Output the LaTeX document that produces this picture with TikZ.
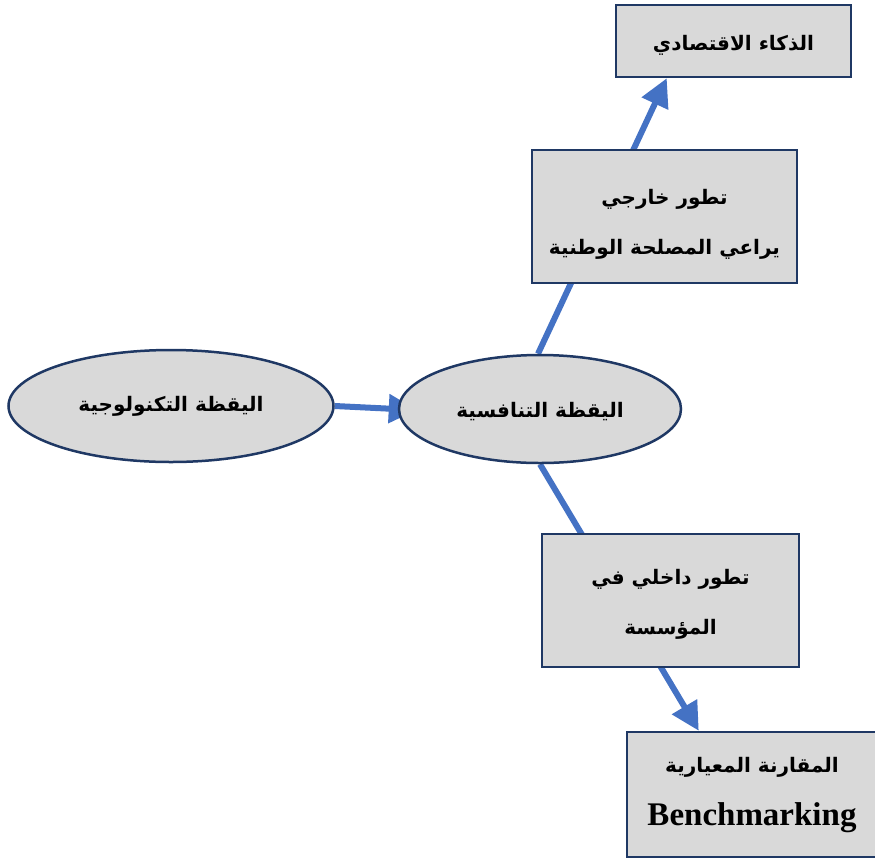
\documentclass[tikz,border=0pt]{standalone}
\usepackage{fontspec}
\setmainfont{Liberation Serif}
\newfontfamily\arabicfont[Script=Arabic]{DejaVu Sans}
\TeXXeTstate=1
\usetikzlibrary{arrows.meta,backgrounds,shapes.geometric}
\definecolor{boxfill}{HTML}{D9D9D9}
\definecolor{boxline}{HTML}{1F3864}
\definecolor{arrowblue}{HTML}{4472C4}
\tikzset{
  shapebase/.style={draw=boxline, line width=2.5pt, fill=boxfill, inner sep=0pt},
  box/.style={shapebase, rectangle},
  oval/.style={shapebase, ellipse},
  caption/.style={align=center, inner sep=0pt,
    font=\arabicfont\bfseries\fontsize{20}{50}\selectfont},
  link/.style={draw=arrowblue, line width=6pt, -{Triangle[width=28pt,length=28pt]}}
}
\begin{document}
\begin{tikzpicture}[x=1pt,y=-1pt]
  \useasboundingbox (0,0) rectangle (875,860);
  % nodes
  \node[box, minimum width=235pt, minimum height=72pt,
    label={[caption, yshift=-4pt]center:{\beginR الذكاء الاقتصادي\endR}}] (A) at (733.5,41) {};
  \node[box, minimum width=265pt, minimum height=133pt,
    label={[caption, yshift=-8pt]center:{\beginR تطور خارجي\endR\\ \beginR يراعي المصلحة الوطنية\endR}}]
    (B) at (664.5,216.5) {};
  \node[oval, minimum width=325pt, minimum height=112pt,
    label={[caption]center:{\beginR اليقظة التكنولوجية\endR}}] (L) at (171,406) {};
  \node[oval, minimum width=282pt, minimum height=108pt,
    label={[caption, yshift=-3pt]center:{\beginR اليقظة التنافسية\endR}}] (C) at (540,409) {};
  \node[box, minimum width=257pt, minimum height=133pt,
    label={[caption, yshift=-4pt]center:{\beginR تطور داخلي في\endR\\ \beginR المؤسسة\endR}}]
    (D) at (670.5,600.5) {};
  \node[box, minimum width=250pt, minimum height=125pt,
    label={[caption, yshift=-1pt]center:{\beginR المقارنة المعيارية\endR\\[3pt]
      {\rmfamily\bfseries\fontsize{33}{50}\selectfont Benchmarking}}}]
    (E) at (752,794.5) {};
  % connectors, drawn beneath the shapes
  \begin{pgfonlayer}{background}
    \draw[link] (L.east) -- ([xshift=19pt,yshift=-1pt]C.west);
    \draw[link] ([xshift=-2pt]C.north) -- ([xshift=52pt]A.south west);
    \draw[link] (C.south) -- ([xshift=73pt]E.north west);
  \end{pgfonlayer}
\end{tikzpicture}
\end{document}
